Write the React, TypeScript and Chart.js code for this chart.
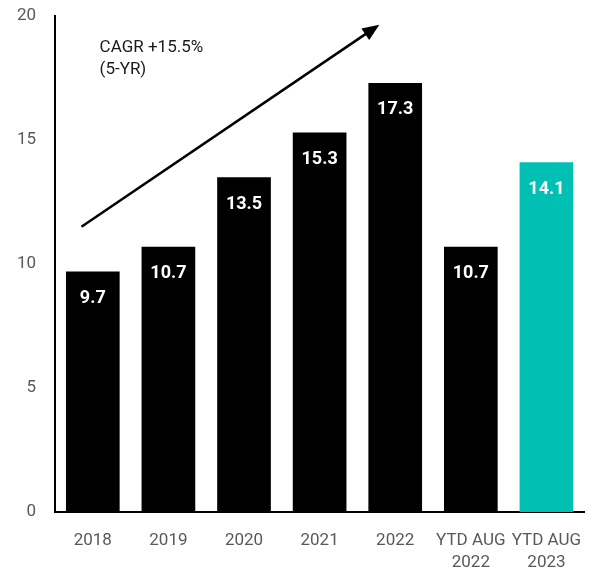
import React, { useEffect, useRef } from "react";
import { Chart, registerables } from "chart.js";

Chart.register(...registerables);

const categories: (string | string[])[] = ["2018", "2019", "2020", "2021", "2022", ["YTD AUG", "2022"], ["YTD AUG", "2023"]];
const values = [9.7, 10.7, 13.5, 15.3, 17.3, 10.7, 14.1];
const valueLabels = ["9.7", "10.7", "13.5", "15.3", "17.3", "10.7", "14.1"];
const barColors = ["#000000", "#000000", "#000000", "#000000", "#000000", "#000000", "#00BFB3"];
const yTicks = [0, 5, 10, 15, 20];
// arrow annotation in data units: [category index, value]
const arrowStart = [-0.15, 11.5];
const arrowEnd = [3.79, 19.65];
const cagrLines = ["CAGR +15.5%", "(5-YR)"];
const cagrAnchor = [0.09, 18.7];

const FONT = "Roboto, 'Liberation Sans', sans-serif";

const annotPlugin = {
  id: "annot",
  afterDatasetsDraw(chart: any) {
    const { ctx, scales } = chart;
    const x = scales.x;
    const y = scales.y;
    const meta = chart.getDatasetMeta(0);
    ctx.save();
    ctx.font = `bold 18px ${FONT}`;
    ctx.fillStyle = "#ffffff";
    ctx.textAlign = "center";
    ctx.textBaseline = "middle";
    meta.data.forEach((bar: any, i: number) => {
      ctx.fillText(valueLabels[i], bar.x, bar.y + 27);
    });

    // arrow
    const x0 = x.getPixelForValue(arrowStart[0]);
    const y0 = y.getPixelForValue(arrowStart[1]);
    const x1 = x.getPixelForValue(arrowEnd[0]);
    const y1 = y.getPixelForValue(arrowEnd[1]);
    const ang = Math.atan2(y1 - y0, x1 - x0);
    const headLen = 17;
    const headW = 7;
    const bx = x1 - headLen * Math.cos(ang);
    const by = y1 - headLen * Math.sin(ang);
    ctx.strokeStyle = "#000";
    ctx.lineWidth = 2.5;
    ctx.beginPath();
    ctx.moveTo(x0, y0);
    ctx.lineTo(bx + 2 * Math.cos(ang), by + 2 * Math.sin(ang));
    ctx.stroke();
    ctx.fillStyle = "#000";
    ctx.beginPath();
    ctx.moveTo(x1, y1);
    ctx.lineTo(bx + headW * Math.sin(ang), by - headW * Math.cos(ang));
    ctx.lineTo(bx - headW * Math.sin(ang), by + headW * Math.cos(ang));
    ctx.closePath();
    ctx.fill();

    // CAGR text
    ctx.font = `17px ${FONT}`;
    ctx.fillStyle = "#1a1a1a";
    ctx.textAlign = "left";
    ctx.textBaseline = "middle";
    const tx = x.getPixelForValue(cagrAnchor[0]);
    const ty = y.getPixelForValue(cagrAnchor[1]);
    cagrLines.forEach((l, i) => ctx.fillText(l, tx, ty + i * 22));
    ctx.restore();
  },
};

export default function App() {
  const ref = useRef<HTMLCanvasElement>(null);
  useEffect(() => {
    if (!ref.current) return;
    const chart = new Chart(ref.current, {
      type: "bar",
      data: {
        labels: categories,
        datasets: [
          {
            data: values,
            backgroundColor: barColors,
            borderWidth: 0,
            barPercentage: 0.71,
            categoryPercentage: 1,
          },
        ],
      },
      options: {
        animation: false,
        responsive: false,
        layout: { padding: { top: 16, right: 12, left: 0, bottom: 0 } },
        plugins: { legend: { display: false }, tooltip: { enabled: false } },
        scales: {
          x: {
            grid: { display: false, drawTicks: false },
            border: { display: true, color: "#000", width: 2 },
            ticks: {
              color: "#595959",
              font: { family: FONT, size: 17, lineHeight: 1.3 },
              padding: 18,
              maxRotation: 0,
              autoSkip: false,
            },
            afterFit: (s: any) => {
              s.height = 60;
            },
          },
          y: {
            min: 0,
            max: 20,
            afterBuildTicks: (s: any) => {
              s.ticks = yTicks.map((v) => ({ value: v }));
            },
            grid: { display: false, drawTicks: false },
            border: { display: true, color: "#000", width: 2 },
            ticks: {
              color: "#595959",
              font: { family: FONT, size: 17 },
              padding: 19,
            },
            afterFit: (s: any) => {
              s.width = 55;
              s.paddingTop = 0;
              s.paddingBottom = 0;
            },
          },
        },
      },
      plugins: [annotPlugin],
    });
    return () => chart.destroy();
  }, []);
  return (
    <div style={{ position: "absolute", left: 0, top: 0, width: 600, height: 572, background: "#fff" }}>
      <canvas ref={ref} width={600} height={572} style={{ display: "block" }} />
    </div>
  );
}
